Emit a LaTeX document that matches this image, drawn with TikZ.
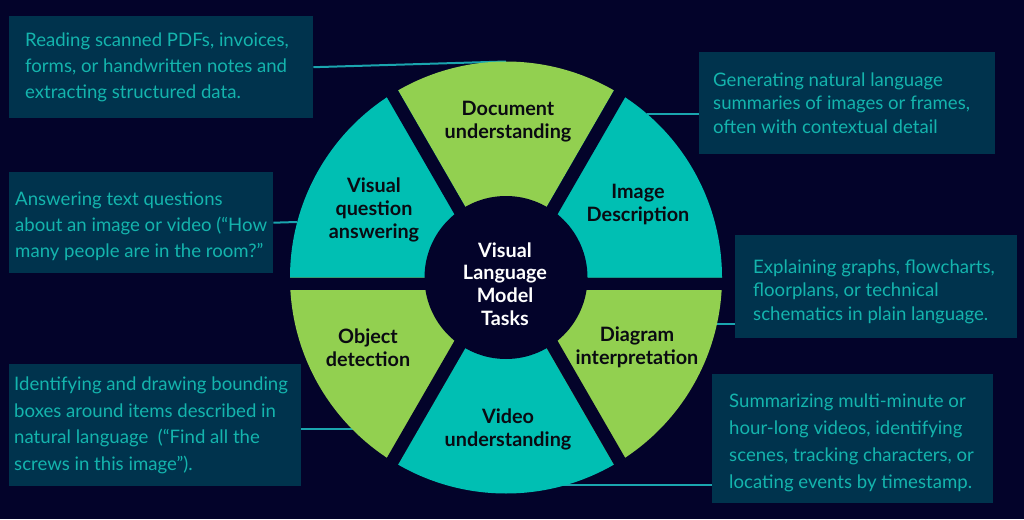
\documentclass[tikz,border=0pt]{standalone}
\usepackage{fontspec}
\setmainfont{Lato}
\definecolor{bg}{HTML}{03032A}
\definecolor{boxfill}{HTML}{00334D}
\definecolor{boxtext}{HTML}{14B4AD}
\definecolor{segteal}{HTML}{00BFB3}
\definecolor{seggreen}{HTML}{92D050}
\definecolor{linecol}{HTML}{1AA5AE}
\definecolor{labeltext}{HTML}{0A0A12}
\newcommand\desclines[3][0pt]{\makebox[#2][l]{\raisebox{0pt}[\dimexpr\height+#1\relax][\dimexpr\depth-#1\relax]{\begin{tabular}{@{}l@{}}#3\end{tabular}}}}
\begin{document}
\begin{tikzpicture}[x=1pt,y=-1pt,
  descbox/.style={fill=boxfill, text=boxtext, anchor=north west, inner ysep=0pt,
    font=\fontsize{18.6}{26}\selectfont},
  tightlines/.style={font=\fontsize{18.6}{23.5}\selectfont},
  widelines/.style={font=\fontsize{18.6}{26.7}\selectfont},
  seglabel/.style={text=labeltext, align=center, inner sep=0pt, font=\bfseries\fontsize{19.8}{23}\selectfont},
  centerlabel/.style={text=white, align=center, inner sep=0pt, font=\bfseries\fontsize{19.8}{22.7}\selectfont},
  connector/.style={draw=linecol, line width=2pt}
]
\fill[bg] (0,0) rectangle (1024,519);
\path[use as bounding box] (0,0) rectangle (1024,519);

% description boxes
\node[descbox, minimum width=304pt, minimum height=102pt, inner xsep=16pt] (box1) at (9,16)
  {\desclines[0pt]{272pt}{Reading scanned PDFs, invoices,\\forms, or handwritten notes and\\extracting structured data.}};
\node[descbox, tightlines, minimum width=296pt, minimum height=102pt, inner xsep=14pt] (box2) at (699,52)
  {\desclines[2pt]{268pt}{Generating natural language\\summaries of images or frames,\\often with contextual detail}};
\node[descbox, minimum width=264pt, minimum height=101pt, inner xsep=6pt] (box3) at (9,172)
  {\desclines[4pt]{252pt}{Answering text questions\\about an image or video (“How\\many people are in the room?”}};
\node[descbox, tightlines, minimum width=282pt, minimum height=103pt, inner xsep=18pt] (box4) at (735,235)
  {\desclines[5.5pt]{246pt}{Explaining graphs, flowcharts,\\floorplans, or technical\\schematics in plain language.}};
\node[descbox, widelines, minimum width=292pt, minimum height=122pt, inner xsep=5pt] (box5) at (9,364)
  {\desclines[0pt]{282pt}{Identifying and drawing bounding\\boxes around items described in\\natural language~~(“Find all the\\screws in this image”).}};
\node[descbox, widelines, minimum width=281pt, minimum height=129pt, inner xsep=17pt] (box6) at (712,374)
  {\desclines[4pt]{247pt}{Summarizing multi-minute or\\hour-long videos, identifying\\scenes, tracking characters, or\\locating events by timestamp.}};

% connector end points on the ring
\coordinate (c1) at (506,61.5);
\coordinate (c2) at (647,114);
\coordinate (c3) at (297,222);
\coordinate (c4) at (717,324);
\coordinate (c5) at (354,429);
\coordinate (c6) at (563,485);

\draw[connector] (box1.east) -- (c1);
\draw[connector] (c2) -- (c2 -| box2.west);
\draw[connector] (box3.east) -- (c3);
\draw[connector] (c4) -- (c4 -| box4.west);
\draw[connector] (c5 -| box5.east) -- (c5);
\draw[connector] (c6) -- (c6 -| box6.west);

% ring
\begin{scope}[shift={(506,277.5)}, y=1pt]
  \fill[seggreen] (0,0) -- (60:216) arc[start angle=60, end angle=120, radius=216] -- cycle;
  \fill[segteal]  (0,0) -- (120:216) arc[start angle=120, end angle=180, radius=216] -- cycle;
  \fill[seggreen] (0,0) -- (180:216) arc[start angle=180, end angle=240, radius=216] -- cycle;
  \fill[segteal]  (0,0) -- (240:216) arc[start angle=240, end angle=300, radius=216] -- cycle;
  \fill[seggreen] (0,0) -- (300:216) arc[start angle=300, end angle=360, radius=216] -- cycle;
  \fill[segteal]  (0,0) -- (0:216) arc[start angle=0, end angle=60, radius=216] -- cycle;
  % gaps
  \fill[bg, rotate=120] (0,0) rectangle (222,13);
  \fill[bg, rotate=60]  (0,0) rectangle (222,-13);
  \fill[bg, rotate=240] (0,0) rectangle (222,-13);
  \fill[bg, rotate=300] (0,0) rectangle (222,13);
  \fill[bg] (-222,0) rectangle (222,-12);
  \fill[bg] (0,0) circle[radius=81.5];
\end{scope}

% labels
\node[seglabel] (doc) at (508,121.5) {Document\\understanding};
\node[seglabel] (vqa) at (374,210) {Visual\\question\\answering};
\node[seglabel] (imd) at (638,204.5) {Image\\Description};
\node[seglabel] (obj) at (368,347.5) {Object\\detection};
\node[seglabel] (dia) at (637,347.5) {Diagram\\interpretation};
\node[seglabel] (vid) at (508,429.5) {Video\\understanding};
\node[centerlabel] (center) at (505,284) {Visual\\Language\\Model\\Tasks};
\end{tikzpicture}
\end{document}
